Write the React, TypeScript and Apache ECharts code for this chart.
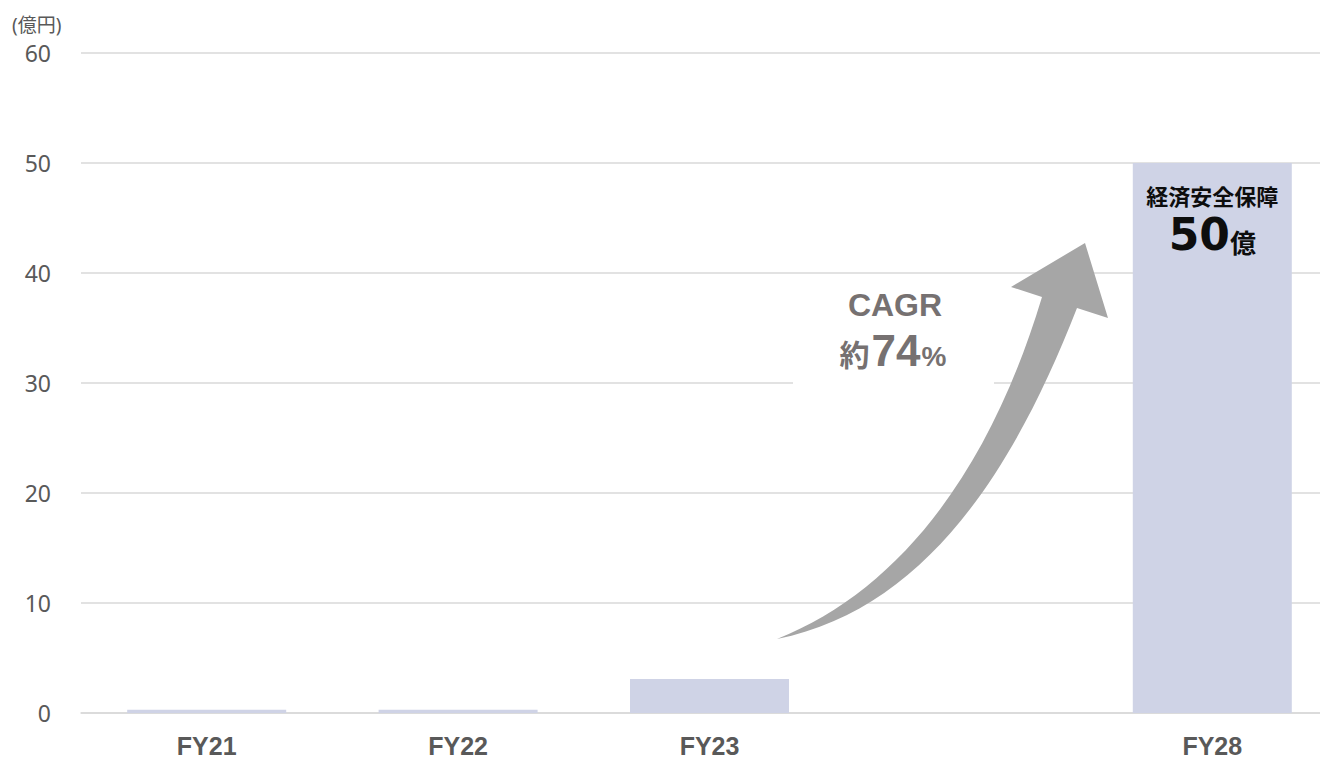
import React, { useEffect, useRef } from "react";
import * as echarts from "echarts";

const categories = ["FY21", "FY22", "FY23", "", "FY28"];
const values: (number | null)[] = [0.3, 0.3, 3.1, null, 50];
const yTicks = [0, 10, 20, 30, 40, 50, 60];
const unitLabel = "(億円)";
const highlightTitle = "経済安全保障";
const highlightValue = "50";
const highlightUnit = "億";
const cagrTitle = "CAGR";
const cagrPrefix = "約";
const cagrValue = "74";
const cagrSuffix = "%";

const ARROW_D =
  "M777 639 C900 590 990 470 1042 297 L1011 287 L1085 243 L1108 318 L1077 308 C1010 480 920 610 777 639 Z";
echarts.graphic.registerShape("cagrArrow", echarts.graphic.extendPath(ARROW_D, {}));

const FONT = "'Noto Sans', 'Noto Sans CJK JP', sans-serif";
const WIDE_FONT = "'DejaVu Sans', 'Noto Sans CJK JP', sans-serif";
const ARIAL = "'Liberation Sans', Arial, sans-serif";
const CJK = "'Noto Sans CJK JP', sans-serif";
const AXIS_GRAY = "#595959";
const CAGR_GRAY = "#767171";

export default function App() {
  const ref = useRef<HTMLDivElement>(null);
  useEffect(() => {
    if (!ref.current) return;
    const chart = echarts.init(ref.current, undefined, { renderer: "svg" });
    const hlIndex = categories.indexOf("FY28");
    chart.setOption({
      animation: false,
      backgroundColor: "#ffffff",
      grid: { left: 81, top: 53, right: 0, bottom: 43, containLabel: false },
      xAxis: {
        type: "category",
        data: categories,
        axisLine: { show: true, lineStyle: { color: "#d9d9d9", width: 1.5 } },
        axisTick: { show: false },
        axisLabel: {
          color: AXIS_GRAY,
          fontSize: 25,
          fontWeight: "bold",
          fontFamily: ARIAL,
          margin: 20,
        },
      },
      yAxis: {
        type: "value",
        min: yTicks[0],
        max: yTicks[yTicks.length - 1],
        interval: yTicks[1] - yTicks[0],
        axisLine: { show: false },
        axisTick: { show: false },
        splitLine: { lineStyle: { color: "#d9d9d9", width: 1.5 } },
        axisLabel: { color: AXIS_GRAY, fontSize: 23, fontFamily: FONT, margin: 30 },
      },
      series: [
        {
          type: "bar",
          barWidth: 159,
          itemStyle: { color: "#cfd3e6" },
          data: values.map((v, i) =>
            i === hlIndex
              ? {
                  value: v,
                  label: {
                    show: true,
                    position: "insideTop",
                    distance: 19,
                    formatter: `{a|${highlightTitle}}\n{b|${highlightValue}}{c|${highlightUnit}}`,
                    rich: {
                      a: { fontSize: 22, fontWeight: "bold", color: "#0d0d0d", lineHeight: 28, fontFamily: FONT },
                      b: { fontSize: 44, fontWeight: "bold", color: "#0d0d0d", lineHeight: 46, fontFamily: WIDE_FONT, verticalAlign: "bottom" },
                      c: { fontSize: 26, fontWeight: "bold", color: "#0d0d0d", lineHeight: 46, fontFamily: FONT, verticalAlign: "bottom" },
                    },
                  },
                }
              : v
          ),
        },
      ],
      graphic: [
        {
          type: "text",
          left: 12,
          top: 15,
          style: { text: unitLabel, fontSize: 19, fill: AXIS_GRAY, fontFamily: FONT },
        },
        {
          type: "rect",
          shape: { x: 793, y: 280, width: 201, height: 110 },
          style: { fill: "#ffffff" },
          z: 10,
        },
        {
          type: "cagrArrow",
          x: 0,
          y: 0,
          scaleX: 1,
          scaleY: 1,
          style: { fill: "#a6a6a6" },
          z: 11,
        },
        {
          type: "text",
          x: 895,
          y: 305,
          z: 12,
          style: {
            text: cagrTitle,
            fontSize: 32,
            fontWeight: "bold",
            fill: CAGR_GRAY,
            fontFamily: ARIAL,
            textAlign: "center",
            textVerticalAlign: "middle",
          },
        },
        {
          type: "text",
          x: 893,
          y: 372,
          z: 12,
          style: {
            text: `{p|${cagrPrefix}}{n|${cagrValue}}{s|${cagrSuffix}}`,
            textAlign: "center",
            textVerticalAlign: "bottom",
            rich: {
              p: { fontSize: 30, fontWeight: "bold", fill: CAGR_GRAY, fontFamily: CJK, lineHeight: 44, verticalAlign: "bottom", padding: [0, 2, 4, 0] },
              n: { fontSize: 44, fontWeight: "bold", fill: CAGR_GRAY, fontFamily: ARIAL, lineHeight: 44, verticalAlign: "bottom" },
              s: { fontSize: 28, fontWeight: "bold", fill: CAGR_GRAY, fontFamily: ARIAL, lineHeight: 44, verticalAlign: "bottom", padding: [0, 0, 2, 1] },
            },
          },
        },
      ],
    });
    return () => chart.dispose();
  }, []);
  return (
    <div style={{ position: "fixed", left: 0, top: 0, width: 1320, height: 758, overflow: "hidden" }}>
      <div ref={ref} style={{ width: 1338, height: 758 }} />
    </div>
  );
}
